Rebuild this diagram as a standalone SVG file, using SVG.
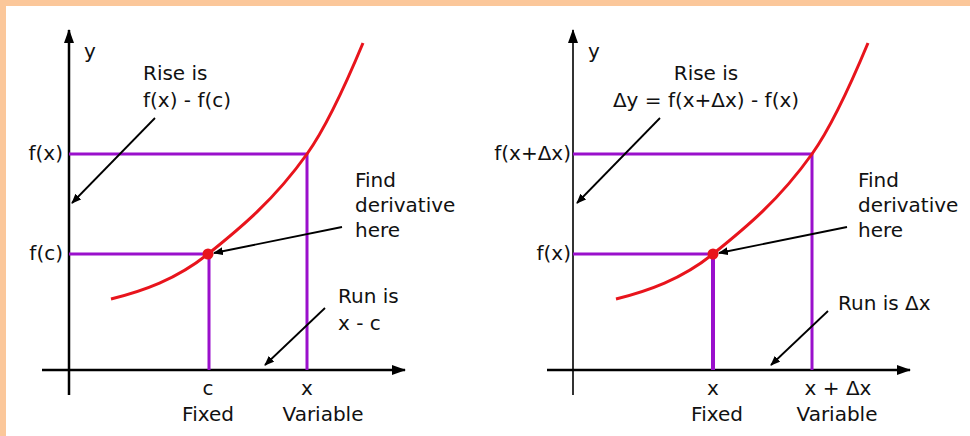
<svg xmlns="http://www.w3.org/2000/svg" width="970" height="436" viewBox="0 0 970 436">
<style>
text{font-family:"DejaVu Sans","Liberation Sans",sans-serif;font-size:20px;fill:#111}
.ax{stroke:#000;stroke-width:2.5;fill:none}
.pu{stroke:#9A10CC;stroke-width:3;fill:none}
.cv{stroke:#E8141C;stroke-width:3;fill:none}
.ar{stroke:#000;stroke-width:1.8;fill:none}
.m{text-anchor:middle}
.e{text-anchor:end}
</style>
<defs>
<marker id="ah" markerWidth="10" markerHeight="8" refX="9" refY="4" orient="auto" markerUnits="userSpaceOnUse">
<path d="M0,0 L10,4 L0,8 Z" fill="#000"/>
</marker>
<marker id="axh" markerWidth="14" markerHeight="10" refX="13" refY="5" orient="auto" markerUnits="userSpaceOnUse">
<path d="M0,0 L14,5 L0,10 Z" fill="#000"/>
</marker>
</defs>
<rect x="0" y="0" width="970" height="436" fill="#FBC79A"/>
<rect x="6" y="6" width="964" height="430" fill="#FFFFFF"/>

<g id="left-graph">
<line class="ax" x1="69" y1="395" x2="69" y2="30" marker-end="url(#axh)"/>
<line class="ax" x1="42" y1="370" x2="405" y2="370" marker-end="url(#axh)"/>
<polyline class="pu" points="69,154 307,154 307,370"/>
<polyline class="pu" points="69,254 209,254 209,370"/>
<path class="cv" d="M111,299 C143,291 176,279.6 208,254 C241,227.6 274,200.2 307,154 C326,127.4 344,88.6 363,43"/>
<circle cx="208" cy="254" r="5.5" fill="#E8141C"/>
<text x="84" y="58">y</text>
<text x="63" y="160" class="e">f(x)</text>
<text x="63" y="260" class="e">f(c)</text>
<text x="143" y="80">Rise is</text>
<text x="143" y="107">f(x) - f(c)</text>
<text x="355" y="187">Find</text>
<text x="355" y="212">derivative</text>
<text x="355" y="237">here</text>
<text x="338" y="303">Run is</text>
<text x="338" y="330">x - c</text>
<text x="208" y="395" class="m">c</text>
<text x="208" y="421" class="m">Fixed</text>
<text x="307" y="395" class="m">x</text>
<text x="323" y="421" class="m">Variable</text>
</g>

<g id="right-graph">
<line class="ax" x1="573" y1="395" x2="573" y2="30" marker-end="url(#axh)" style="stroke:#333;stroke-width:2"/>
<line class="ax" x1="547" y1="370" x2="910" y2="370" marker-end="url(#axh)"/>
<polyline class="pu" points="573,154 812,154 812,370"/>
<polyline class="pu" points="573,254 713,254"/>
<line class="pu" x1="713" y1="254" x2="713" y2="370" style="stroke-width:4"/>
<path class="cv" transform="translate(505,0)" d="M111,299 C143,291 176,279.6 208,254 C241,227.6 274,200.2 307,154 C326,127.4 344,88.6 363,43"/>
<circle cx="713" cy="254" r="5.5" fill="#E8141C"/>
<text x="588" y="58">y</text>
<text x="571" y="160" class="e">f(x+Δx)</text>
<text x="571" y="260" class="e">f(x)</text>
<text x="706" y="80" class="m">Rise is</text>
<text x="706" y="107" class="m">Δy = f(x+Δx) - f(x)</text>
<text x="858" y="187">Find</text>
<text x="858" y="212">derivative</text>
<text x="858" y="237">here</text>
<text x="838" y="310">Run is Δx</text>
<text x="713" y="395" class="m">x</text>
<text x="717" y="421" class="m">Fixed</text>
<text x="838" y="395" class="m">x + Δx</text>
<text x="837" y="421" class="m">Variable</text>
</g>

<g id="connectors">
<line class="ar" x1="155" y1="118" x2="72" y2="203" marker-end="url(#ah)"/>
<line class="ar" x1="342" y1="227" x2="214" y2="253" marker-end="url(#ah)"/>
<line class="ar" x1="325" y1="308" x2="265" y2="365" marker-end="url(#ah)"/>
<line class="ar" x1="660" y1="118" x2="577" y2="203" marker-end="url(#ah)"/>
<line class="ar" x1="847" y1="227" x2="719" y2="253" marker-end="url(#ah)"/>
<line class="ar" x1="828" y1="311" x2="771" y2="365" marker-end="url(#ah)"/>
</g>
</svg>
